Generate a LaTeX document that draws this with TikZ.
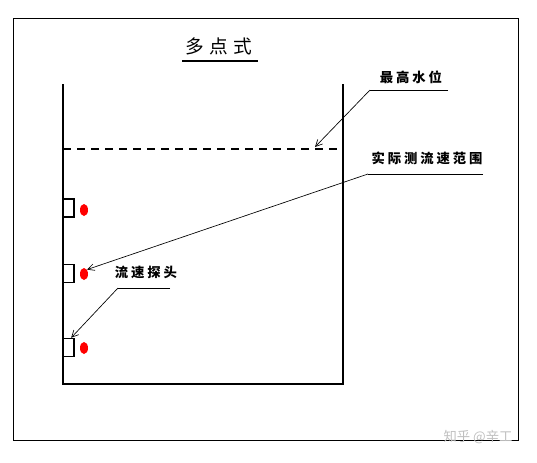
\documentclass[tikz,border=0pt]{standalone}
\usepackage{fontspec}
\newfontfamily\cjk{Noto Sans CJK SC}
\usetikzlibrary{arrows.meta,shapes.geometric}

\tikzset{
  wall/.style={line width=2.2pt},
  leader/.style={line width=0.5pt},
  pointer/.style={leader,-{Straight Barb[length=5pt,width=5pt]}},
  probebox/.style={draw,line width=1.1pt,minimum width=8.25pt,minimum height=13.5pt,inner sep=0pt},
  reddot/.style={ellipse,fill=red,minimum width=6pt,minimum height=9pt,inner sep=0pt},
  tag/.style={font=\cjk\bfseries\fontsize{10}{12}\selectfont\addfontfeature{LetterSpace=22},inner sep=0pt}
}

\begin{document}
\begin{tikzpicture}[x=0.75pt,y=0.75pt,yscale=-1,xscale=1]
\useasboundingbox (0,0) rectangle (537,462);

%Frame
\draw [line width=0.75pt] (13,18) rectangle (518,440);

%Container
\draw [wall] (63,84) -- (63,384) -- (343,384) -- (343,84);
%Highest level
\draw [line width=1.1pt, dash pattern=on 6pt off 4.5pt] (63,149) -- (343,149);

% Title
\node [font=\cjk\fontsize{14}{16}\selectfont\addfontfeature{LetterSpace=30},inner sep=0pt] (title) at (219,46) {多点式};
\draw [line width=1.5pt] (182,61) -- (258,61);

% Probes
\node [probebox] (probe1) at (68.5,208) {};
\node [probebox] (probe2) at (68.5,273.5) {};
\node [probebox] (probe3) at (68.5,347.5) {};
\node [reddot] (dot1) at (84,210) {};
\node [reddot] (dot2) at (84,274) {};
\node [reddot] (dot3) at (84,348) {};

% Text Node
\node [tag] (lblMax) at (411,77) {最高水位};
% Text Node
\node [tag] (lblRange) at (427,158) {实际测流速范围};
% Text Node
\node [tag] (lblProbe) at (146,272) {流速探头};

% Leaders
\coordinate (kneeMax) at (370,90);
\coordinate (endMax) at (448,90);
\coordinate (levelPt) at (315,147);
\draw [leader] (endMax) -- (kneeMax);
\draw [pointer] (kneeMax) -- (levelPt);

\coordinate (kneeRange) at (368,174);
\coordinate (endRange) at (483,174);
\draw [leader] (endRange) -- (kneeRange);
\draw [pointer] (kneeRange) -- (dot2.north east);

\coordinate (kneeProbe) at (118,288);
\coordinate (endProbe) at (170,288);
\draw [leader] (endProbe) -- (kneeProbe);
\draw [pointer] (kneeProbe) -- ([xshift=2pt]probe3.north);

% Watermark
\node [font=\cjk\fontsize{10}{12}\selectfont, text=black!25, inner sep=0pt] (mark) at (478,437) {知乎 @辛工};

\end{tikzpicture}
\end{document}
